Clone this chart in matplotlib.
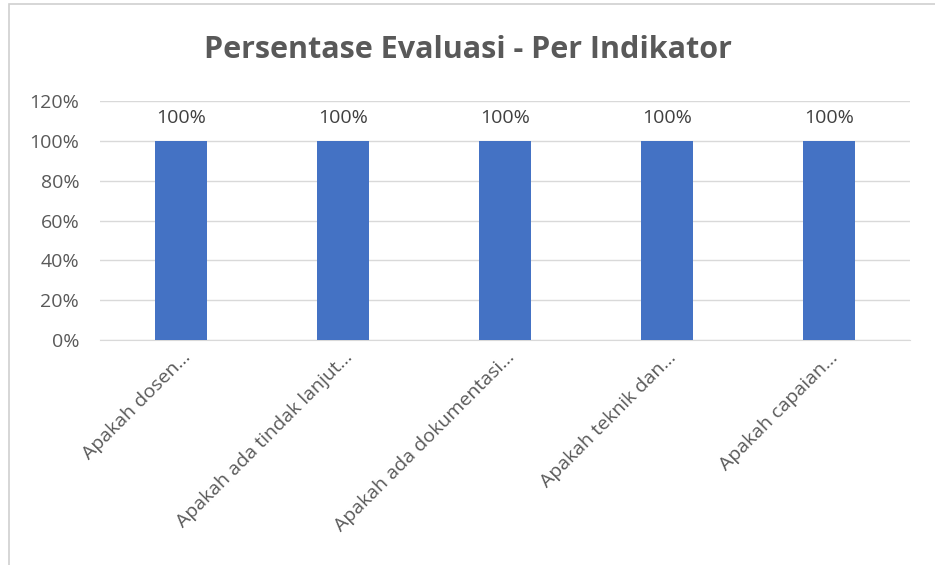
import matplotlib.pyplot as plt
from matplotlib.patches import Rectangle
from matplotlib.ticker import PercentFormatter

plt.rcParams['font.family'] = ['Open Sans', 'DejaVu Sans']

# data
categories = [
    "Apakah dosen…",
    "Apakah ada tindak lanjut…",
    "Apakah ada dokumentasi…",
    "Apakah teknik dan…",
    "Apakah capaian…",
]
values = [100, 100, 100, 100, 100]
yticks = [0, 20, 40, 60, 80, 100, 120]

fig = plt.figure(figsize=(9.35, 5.65), dpi=100)
ax = fig.add_axes([0.107, 0.398, 0.866, 0.423])

x = range(len(categories))
bars = ax.bar(x, values, width=0.32, color="#4472C4", zorder=3)

for b, v in zip(bars, values):
    ax.text(b.get_x() + b.get_width() / 2, v + 7, f"{v}%",
            ha="center", va="bottom", fontsize=14, color="#404040")

ax.set_xlim(-0.5, len(categories) - 0.5)
ax.set_ylim(0, 120)
ax.set_yticks(yticks)
ax.yaxis.set_major_formatter(PercentFormatter(decimals=0))
ax.grid(axis="y", color="#D9D9D9", linewidth=1, zorder=0)
for s in ["top", "right", "left"]:
    ax.spines[s].set_visible(False)
ax.spines["bottom"].set_color("#D9D9D9")
ax.tick_params(axis="both", length=0, labelsize=14, labelcolor="#595959")
ax.tick_params(axis="y", pad=15)
ax.tick_params(axis="x", pad=6)

ax.set_xticks(list(x))
ax.set_xticklabels(categories, rotation=45, ha="right", rotation_mode="anchor")

fig.text(0.5, 0.912, "Persentase Evaluasi - Per Indikator", ha="center",
         va="center", fontsize=22, fontweight="bold", color="#595959")

# chart border
fig.patches.append(Rectangle((8.5 / 935, -0.1), 1.0, 1.1 - 3.5 / 565,
                             transform=fig.transFigure, fill=False,
                             edgecolor="#D0D0D0", linewidth=1.2))

plt.savefig("out.png", dpi=100)
plt.close()
